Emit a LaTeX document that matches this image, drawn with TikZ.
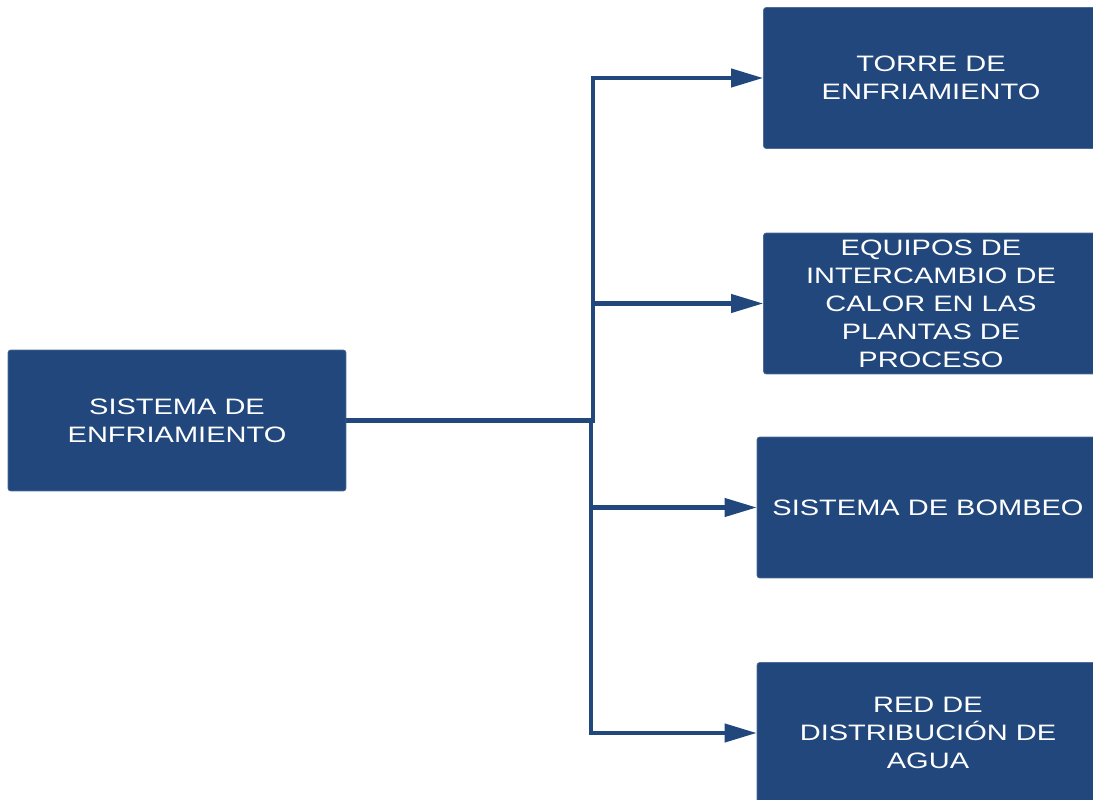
\documentclass[tikz,border=0pt]{standalone}
\usepackage{fontspec}
\newfontfamily\boxfont[FakeStretch=1.3]{Liberation Sans}
\usetikzlibrary{arrows.meta,positioning}
\definecolor{boxblue}{RGB}{33,71,125}

\begin{document}
\begin{tikzpicture}[x=0.02cm,y=-0.02cm]
    \tikzset{block/.style= {fill=boxblue, draw=boxblue!80!white, rectangle
    , rounded corners=1.5pt
    , inner sep=0pt
    , minimum height=2.82cm
    , text=white
    , align=center
    , font=\boxfont\fontsize{12.7}{15.9}\selectfont
      },
      link/.style={draw=boxblue, line width=2.3pt
    , -{Triangle[length=0.64cm,width=0.36cm]}
      }
    }
\clip (0,0) rectangle (1093,800);

\node [block, minimum width=6.76cm] (init) at (177,420.5) {SISTEMA DE\\ENFRIAMIENTO};
\node [block, minimum width=6.7cm] (torre) at (931,78) {TORRE DE\\ENFRIAMIENTO};
\node [block, minimum width=6.7cm] (equipos) at (931,303.5) {EQUIPOS DE\\INTERCAMBIO DE\\CALOR EN LAS\\PLANTAS DE\\PROCESO};
\node [block, minimum width=6.84cm] (bombeo) at (928,507.5) {SISTEMA DE BOMBEO};
\node [block, minimum width=6.84cm] (red) at (928,733) {RED DE\\DISTRIBUCIÓN DE\\AGUA};

\coordinate (up) at (593,420.5);
\coordinate (down) at (591,420.5);

 \path[link] (init) -- (up) |- (torre);
 \path[link] (up) |- (equipos);
 \path[link] (init) -- (down) |- (bombeo);
 \path[link] (down) |- (red);
\end{tikzpicture}
\end{document}
